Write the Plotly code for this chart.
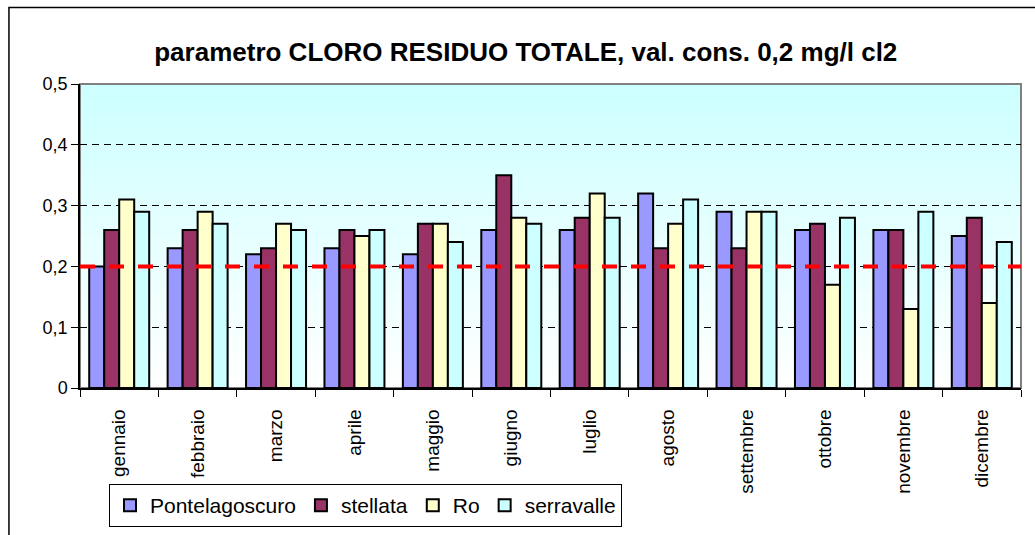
import plotly.graph_objects as go

months = ["gennaio", "febbraio", "marzo", "aprile", "maggio", "giugno",
          "luglio", "agosto", "settembre", "ottobre", "novembre", "dicembre"]
pontelagoscuro = [0.20, 0.23, 0.22, 0.23, 0.22, 0.26, 0.26, 0.32, 0.29, 0.26, 0.26, 0.25]
stellata = [0.26, 0.26, 0.23, 0.26, 0.27, 0.35, 0.28, 0.23, 0.23, 0.27, 0.26, 0.28]
ro = [0.31, 0.29, 0.27, 0.25, 0.27, 0.28, 0.32, 0.27, 0.29, 0.17, 0.13, 0.14]
serravalle = [0.29, 0.27, 0.26, 0.26, 0.24, 0.27, 0.28, 0.31, 0.29, 0.28, 0.29, 0.24]
limit_value = 0.2
y_ticks = [0, 0.1, 0.2, 0.3, 0.4, 0.5]
y_tick_labels = ["0", "0,1", "0,2", "0,3", "0,4", "0,5"]
title_text = "parametro CLORO RESIDUO TOTALE, val. cons. 0,2 mg/l cl2"

series = [
    ("Pontelagoscuro", pontelagoscuro, "#9999FF"),
    ("stellata", stellata, "#993366"),
    ("Ro", ro, "#FFFFCC"),
    ("serravalle", serravalle, "#CCFFFF"),
]

FONT = "Arial, 'Liberation Sans', sans-serif"

fig = go.Figure()
for name, vals, col in series:
    fig.add_trace(go.Bar(
        x=months, y=vals, name=name,
        marker=dict(color=col, line=dict(color="black", width=2)),
    ))

shapes = []
# gradient background (white at bottom -> light cyan at top)
n = 100
for i in range(n):
    t = i / (n - 1)
    r = int(round(255 - (255 - 204) * t))
    shapes.append(dict(
        type="rect", xref="paper", yref="paper",
        x0=0, x1=1, y0=i / n, y1=(i + 1) / n + 0.002,
        fillcolor=f"rgb({r},255,255)", line=dict(width=0), layer="below",
    ))
# plot area border (gray)
shapes.append(dict(type="rect", xref="paper", yref="paper", x0=0, x1=1, y0=0, y1=1,
                   line=dict(color="#808080", width=2), layer="below"))
# limit line
shapes.append(dict(type="line", xref="paper", yref="y", x0=0, x1=1,
                   y0=limit_value, y1=limit_value,
                   line=dict(color="#FF0000", width=4, dash="15px,14px"), layer="above"))
# outer chart frame
shapes.append(dict(type="rect", xref="paper", yref="paper",
                   x0=-0.0755, x1=1.03, y0=-0.6, y1=1.2515,
                   line=dict(color="black", width=1.5), layer="below"))

fig.update_layout(
    width=1035, height=535,
    margin=dict(l=80, r=14, t=84, b=147),
    paper_bgcolor="white", plot_bgcolor="rgba(0,0,0,0)",
    separators=",.",
    barmode="group", bargap=0.235, bargroupgap=0,
    font=dict(family=FONT, color="black"),
    title=dict(text="<b>" + title_text + "</b>", x=0.508, xanchor="center",
               xref="container", y=0.903, yanchor="middle",
               font=dict(size=26, family=FONT)),
    shapes=shapes,
    showlegend=True,
    legend=dict(orientation="h", x=109 / 1035, xref="container",
                y=1 - 484 / 535, yref="container", xanchor="left", yanchor="top",
                bordercolor="black", borderwidth=1, bgcolor="white",
                font=dict(size=21, family=FONT), itemwidth=30,
                tracegroupgap=0),
)
fig.update_yaxes(range=[0, 0.5], tickvals=y_ticks, ticktext=y_tick_labels,
                 showgrid=True, gridcolor="black", gridwidth=1, griddash="7px,5px",
                 showline=True, linecolor="black", linewidth=1.5,
                 ticks="outside", ticklen=7, tickcolor="black",
                 tickfont=dict(size=18, family=FONT), zeroline=False,
                 automargin=False)
fig.update_xaxes(tickangle=-90, tickson="boundaries", ticks="outside", ticklen=7,
                 tickcolor="black", showline=True, linecolor="black", linewidth=1.5,
                 tickfont=dict(size=19, family=FONT), showgrid=False,
                 ticklabelstandoff=12, automargin=False)

fig.write_html("out.html", config={"displayModeBar": False},
               post_script="document.body.style.margin='0px';")
